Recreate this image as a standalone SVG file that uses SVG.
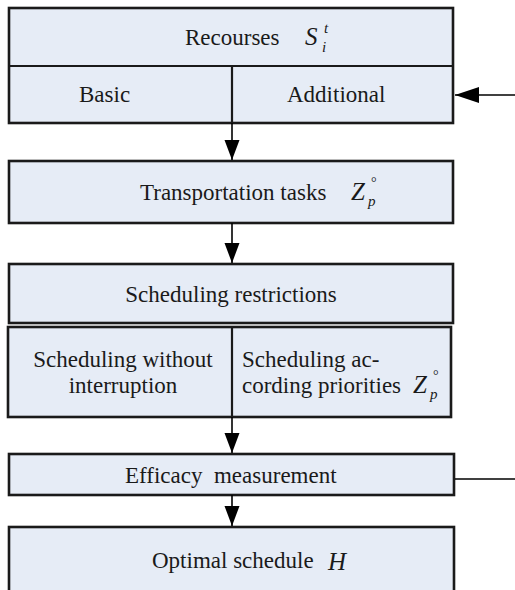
<svg xmlns="http://www.w3.org/2000/svg" width="515" height="590" viewBox="0 0 515 590">
<style>
.box{fill:#e6ecf6;stroke:#1a1a1a;stroke-width:2.6}
.div{stroke:#1a1a1a;stroke-width:2.2;fill:none}
.con{stroke:#000;stroke-width:1.6;fill:none}
</style>
<defs>
<marker id="ah" markerUnits="userSpaceOnUse" markerWidth="20" markerHeight="16" refX="20" refY="7.5" orient="auto">
<path d="M0,0 L20,7.5 L0,15 z" fill="#000"/>
</marker>
<marker id="ah2" markerUnits="userSpaceOnUse" markerWidth="24" markerHeight="17" refX="24" refY="8" orient="auto">
<path d="M0,0 L24,8 L0,16 z" fill="#000"/>
</marker>
</defs>
<rect width="515" height="590" fill="#fff"/>

<g id="resources">
<rect class="box" x="9" y="8" width="444" height="115"/>
<line class="div" x1="9" y1="66" x2="453" y2="66"/>
<line class="div" x1="232" y1="66" x2="232" y2="123"/>
<text x="185" y="45" font-family="Liberation Serif" font-size="23" fill="#1a1a1a">Recourses</text>
<text x="305" y="45" font-family="Liberation Serif" font-size="25" font-style="italic" fill="#1a1a1a">S</text>
<text x="322" y="52" font-family="Liberation Serif" font-size="15" font-style="italic" fill="#1a1a1a">i</text>
<text x="324" y="33" font-family="Liberation Serif" font-size="15" font-style="italic" fill="#1a1a1a">t</text>
<text x="79" y="102" font-family="Liberation Serif" font-size="23" fill="#1a1a1a">Basic</text>
<text x="287" y="102" font-family="Liberation Serif" font-size="23" fill="#1a1a1a">Additional</text>
</g>

<g id="tasks">
<rect class="box" x="9" y="161" width="444" height="62"/>
<text x="140" y="200" font-family="Liberation Serif" font-size="23" fill="#1a1a1a">Transportation tasks</text>
<text x="351" y="200" font-family="Liberation Serif" font-size="25" font-style="italic" fill="#1a1a1a">Z</text>
<text x="368" y="206" font-family="Liberation Serif" font-size="15" font-style="italic" fill="#1a1a1a">p</text>
<text x="371" y="187" font-family="Liberation Serif" font-size="14" fill="#1a1a1a">°</text>
</g>

<g id="restrictions">
<rect class="box" x="9" y="264" width="444" height="59"/>
<text x="231" y="302" text-anchor="middle" font-family="Liberation Serif" font-size="23" fill="#1a1a1a">Scheduling restrictions</text>
</g>

<g id="scheduling">
<rect class="box" x="8" y="327" width="443" height="90"/>
<line class="div" x1="232" y1="327" x2="232" y2="417"/>
<text x="123" y="367" text-anchor="middle" font-family="Liberation Serif" font-size="23" fill="#1a1a1a">Scheduling without</text>
<text x="123" y="393" text-anchor="middle" font-family="Liberation Serif" font-size="23" fill="#1a1a1a">interruption</text>
<text x="242" y="367" font-family="Liberation Serif" font-size="23" fill="#1a1a1a">Scheduling ac-</text>
<text x="242" y="393" font-family="Liberation Serif" font-size="23" fill="#1a1a1a">cording priorities</text>
<text x="413" y="393" font-family="Liberation Serif" font-size="25" font-style="italic" fill="#1a1a1a">Z</text>
<text x="430" y="399" font-family="Liberation Serif" font-size="15" font-style="italic" fill="#1a1a1a">p</text>
<text x="433" y="380" font-family="Liberation Serif" font-size="14" fill="#1a1a1a">°</text>
</g>

<g id="efficacy">
<rect class="box" x="9" y="454" width="445" height="41"/>
<text x="125" y="483" xml:space="preserve" font-family="Liberation Serif" font-size="23" fill="#1a1a1a">Efficacy  measurement</text>
</g>

<g id="optimal">
<rect class="box" x="9" y="527" width="445" height="70"/>
<text x="152" y="568" font-family="Liberation Serif" font-size="23" fill="#1a1a1a">Optimal schedule</text>
<text x="328" y="570" font-family="Liberation Serif" font-size="25" font-style="italic" fill="#1a1a1a">H</text>
</g>

<g id="connectors">
<line class="con" x1="232" y1="123" x2="232" y2="160" marker-end="url(#ah)"/>
<line class="con" x1="232" y1="223" x2="232" y2="263" marker-end="url(#ah)"/>
<line class="con" x1="232" y1="417" x2="232" y2="453" marker-end="url(#ah)"/>
<line class="con" x1="232" y1="495" x2="232" y2="526" marker-end="url(#ah)"/>
<line class="con" x1="515" y1="95" x2="455" y2="95" marker-end="url(#ah2)"/>
<line class="con" x1="455" y1="479" x2="515" y2="479"/>
</g>
</svg>
